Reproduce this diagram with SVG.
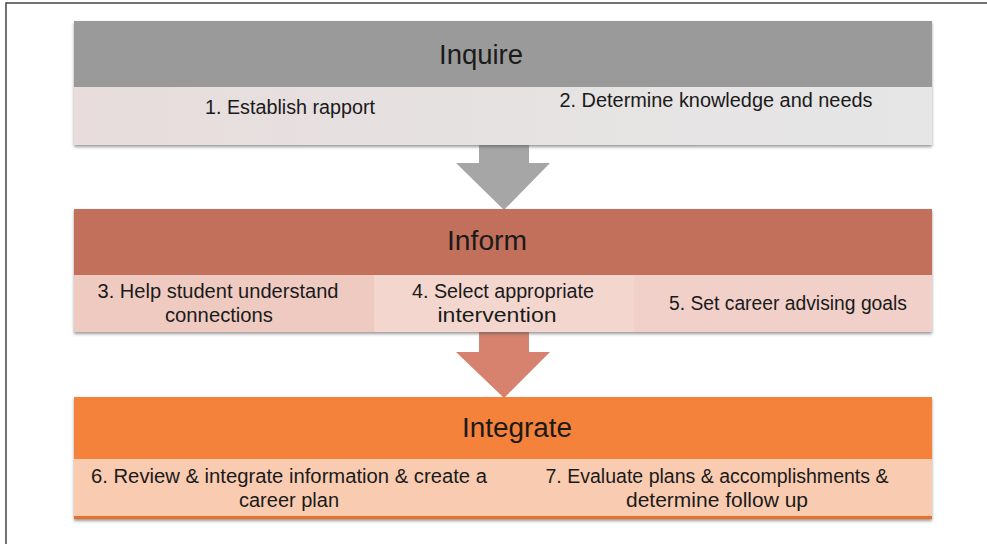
<svg xmlns="http://www.w3.org/2000/svg" width="987" height="544" viewBox="0 0 987 544">
<defs>
<style>
.t{font-family:"Liberation Sans","Open Sans",sans-serif;fill:#1a1a1a;text-anchor:middle}
.h{font-size:27px}
.s{font-size:19.5px}
</style>
<linearGradient id="g1" x1="0" x2="1" y1="0" y2="0">
<stop offset="0" stop-color="#e8dcdc"/><stop offset="0.5" stop-color="#e6e2e2"/><stop offset="1" stop-color="#e6e6e6"/>
</linearGradient>
<filter id="sh" x="-5%" y="-5%" width="110%" height="120%">
<feDropShadow dx="0" dy="2" stdDeviation="1.5" flood-color="#555" flood-opacity="0.6"/>
</filter>
</defs>
<rect width="987" height="544" fill="#ffffff"/>
<path d="M6 544 V3 H987" fill="none" stroke="#444" stroke-width="1.5"/>

<g id="connectors">
<path d="M479 145 H529 V163 H550 L504 210 L456 163 H479 Z" fill="#a6a6a6"/>
<path d="M479 332 H529 V352 H550 L504 398 L456 352 H479 Z" fill="#d6826f"/>
</g>

<g id="inquire">
<rect x="74" y="21" width="858" height="124" fill="#e6e6e6" filter="url(#sh)"/>
<rect x="74" y="21" width="858" height="66" fill="#9a9a9a"/>
<rect x="74" y="87" width="858" height="58" fill="url(#g1)"/>
<text class="t h" x="481" y="64" textLength="84" lengthAdjust="spacingAndGlyphs">Inquire</text>
<text class="t s" x="290" y="114" textLength="170" lengthAdjust="spacingAndGlyphs">1. Establish rapport</text>
<text class="t s" x="716" y="107" textLength="313" lengthAdjust="spacingAndGlyphs">2. Determine knowledge and needs</text>
</g>

<g id="inform">
<rect x="74" y="209" width="858" height="123" fill="#f0cfc6" filter="url(#sh)"/>
<rect x="74" y="209" width="858" height="66" fill="#c2705c"/>
<rect x="74" y="275" width="300" height="57" fill="#efcac1"/>
<rect x="374" y="275" width="260" height="57" fill="#f3d6ce"/>
<rect x="634" y="275" width="298" height="57" fill="#f0d0c8"/>
<text class="t h" x="487" y="250" textLength="80" lengthAdjust="spacingAndGlyphs">Inform</text>
<text class="t s" x="218" y="298" textLength="241" lengthAdjust="spacingAndGlyphs">3. Help student understand</text>
<text class="t s" x="219" y="322" textLength="108" lengthAdjust="spacingAndGlyphs">connections</text>
<text class="t s" x="503" y="298" textLength="182" lengthAdjust="spacingAndGlyphs">4. Select appropriate</text>
<text class="t s" x="497" y="322" textLength="119" lengthAdjust="spacingAndGlyphs">intervention</text>
<text class="t s" x="788" y="310" textLength="238" lengthAdjust="spacingAndGlyphs">5. Set career advising goals</text>
</g>

<g id="integrate">
<rect x="74" y="397" width="858" height="122" fill="#f9c9ad" filter="url(#sh)"/>
<rect x="74" y="397" width="858" height="62" fill="#f4823a"/>
<rect x="74" y="459" width="858" height="60" fill="#f9cbb0"/>
<rect x="74" y="516" width="858" height="3" fill="#e8702a"/>
<text class="t h" x="517" y="437" textLength="110" lengthAdjust="spacingAndGlyphs">Integrate</text>
<text class="t s" x="289" y="483" textLength="396" lengthAdjust="spacingAndGlyphs">6. Review &amp; integrate information &amp; create a</text>
<text class="t s" x="289" y="507" textLength="100" lengthAdjust="spacingAndGlyphs">career plan</text>
<text class="t s" x="717" y="483" textLength="343" lengthAdjust="spacingAndGlyphs">7. Evaluate plans &amp; accomplishments &amp;</text>
<text class="t s" x="717" y="507" textLength="182" lengthAdjust="spacingAndGlyphs">determine follow up</text>
</g>
</svg>
